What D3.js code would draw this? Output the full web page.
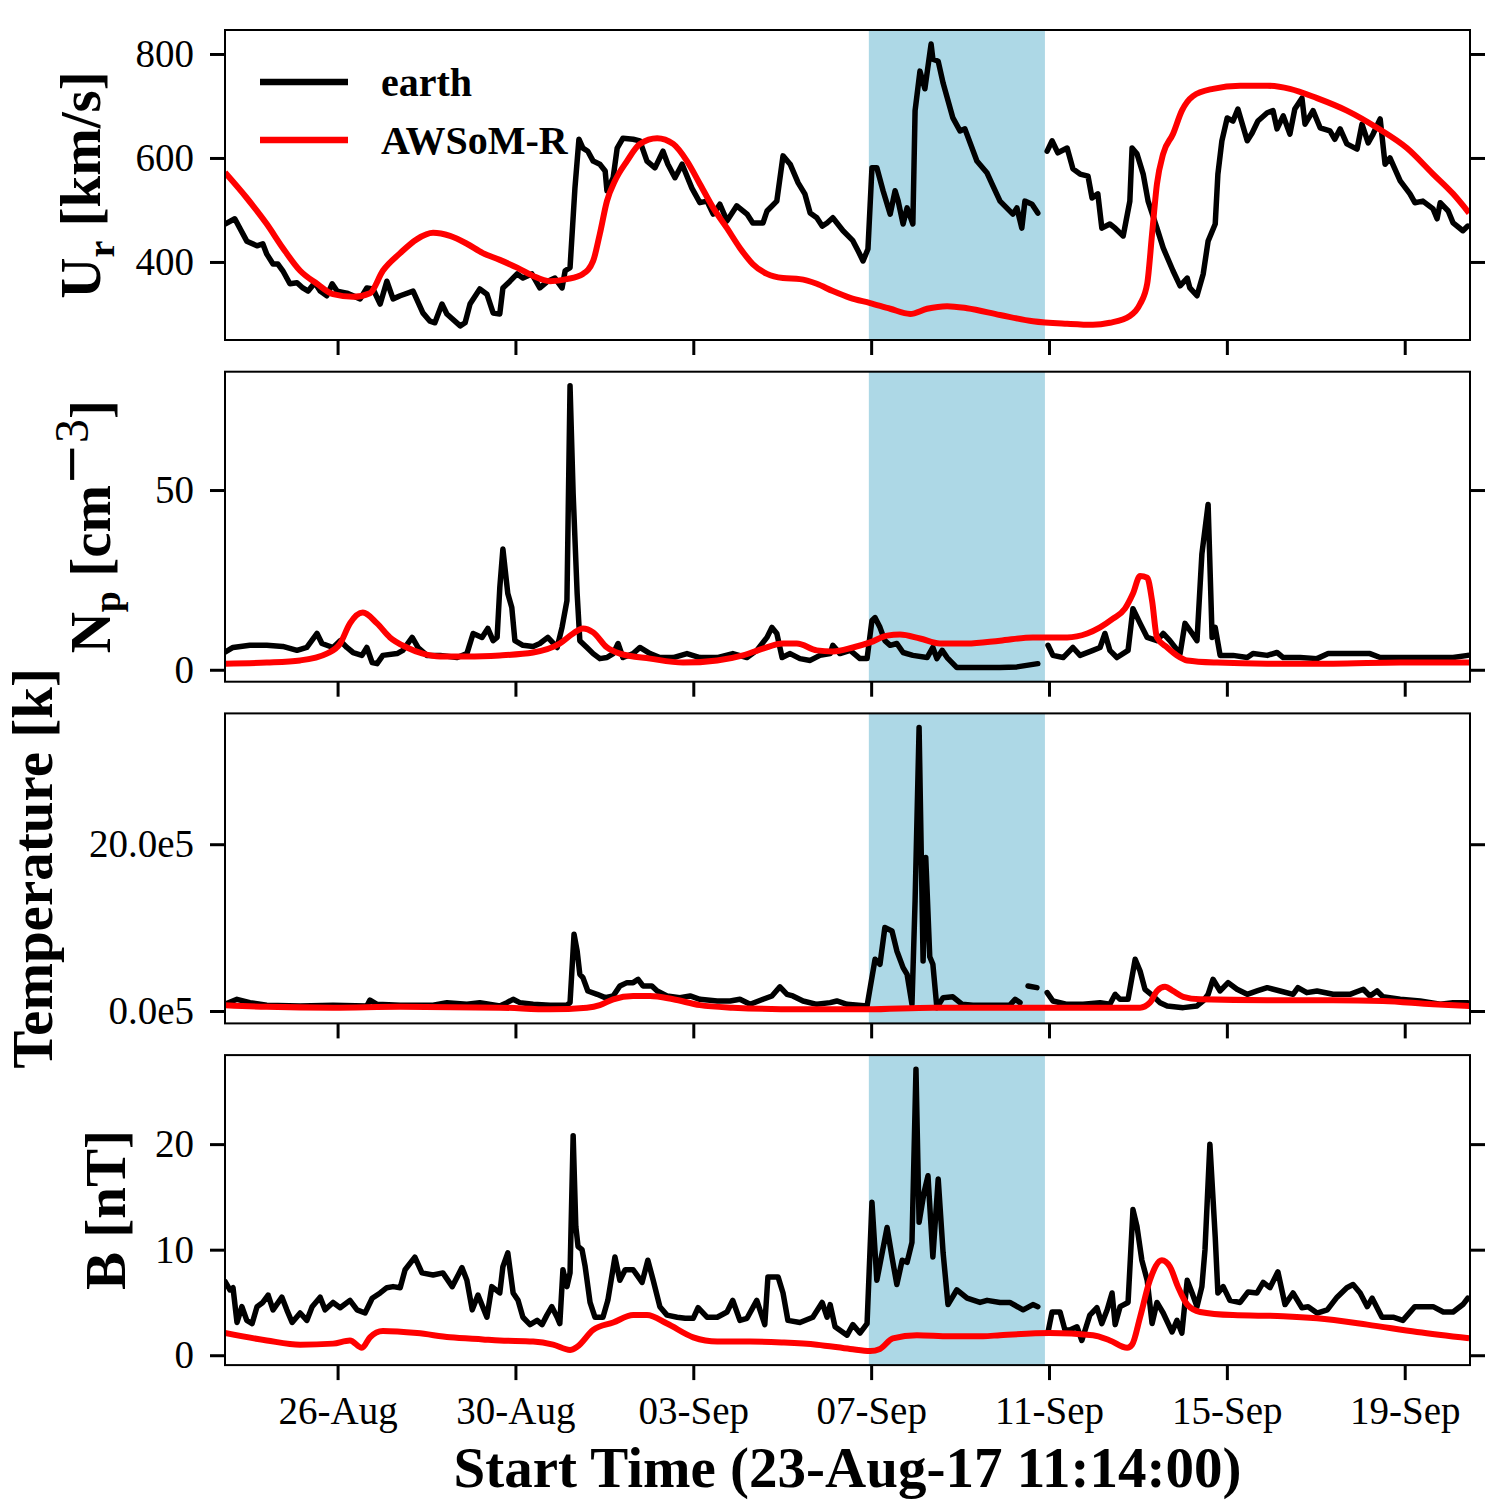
<!DOCTYPE html>
<html>
<head>
<meta charset="utf-8">
<script src="https://cdn.jsdelivr.net/npm/d3@7"></script>
<style>
body { margin: 0; background: #fff; }
svg text { font-family: "Liberation Serif", "Times New Roman", serif; }
</style>
</head>
<body>
<div id="chart"></div>
<script>

// time axis: days since start time 23-Aug-17 11:14:00
var start = Date.UTC(2017, 7, 23, 11, 14)
var spanDays = 28
var shadeDays = [14.48, 18.44]
var tickDates = ["2017-08-26", "2017-08-30", "2017-09-03", "2017-09-07",
                 "2017-09-11", "2017-09-15", "2017-09-19"]

// Ur [km/s]
var urEarth = [[0.00,473],[0.22,483],[0.49,440],[0.72,431],[0.85,435],[0.94,415],[1.08,396],[1.19,396],[1.30,383],[1.46,358],[1.62,360],[1.75,350],[1.87,344],[2.02,360],[2.14,344],[2.29,335],[2.41,358],[2.52,344],[2.74,340],[3.04,329],[3.19,350],[3.33,348],[3.49,319],[3.64,363],[3.78,329],[3.94,335],[4.23,344],[4.45,302],[4.61,286],[4.72,283],[4.88,319],[4.99,300],[5.29,277],[5.40,283],[5.51,319],[5.73,348],[5.89,338],[6.03,302],[6.18,300],[6.25,350],[6.41,363],[6.57,377],[6.70,369],[6.90,377],[7.08,350],[7.26,363],[7.42,369],[7.58,350],[7.65,383],[7.76,389],[7.87,542],[7.96,636],[8.05,619],[8.16,613],[8.28,594],[8.43,588],[8.55,575],[8.59,537],[8.73,562],[8.82,619],[8.95,638],[9.18,636],[9.33,633],[9.49,594],[9.67,581],[9.85,613],[9.96,588],[10.12,562],[10.28,588],[10.50,542],[10.68,514],[10.84,517],[10.98,492],[11.13,511],[11.29,479],[11.51,508],[11.74,492],[11.87,475],[12.10,475],[12.19,498],[12.41,517],[12.55,604],[12.71,588],[12.89,552],[13.04,531],[13.16,494],[13.31,485],[13.43,469],[13.54,475],[13.67,485],[13.90,460],[14.12,441],[14.24,421],[14.35,402],[14.46,425],[14.55,581],[14.66,581],[14.80,537],[14.96,492],[15.07,537],[15.14,517],[15.25,473],[15.34,504],[15.47,473],[15.52,691],[15.63,767],[15.74,733],[15.88,819],[15.92,790],[16.04,786],[16.15,744],[16.37,677],[16.53,652],[16.64,656],[16.91,594],[17.14,571],[17.25,550],[17.43,517],[17.72,492],[17.81,504],[17.92,465],[17.99,517],[18.15,511],[18.28,494],[18.38,null],[18.49,613],[18.60,633],[18.73,610],[18.94,619],[19.07,579],[19.23,569],[19.41,565],[19.50,523],[19.63,531],[19.72,465],[19.90,473],[20.02,465],[20.20,450],[20.35,517],[20.40,619],[20.51,608],[20.65,569],[20.76,517],[20.96,465],[21.10,427],[21.32,383],[21.48,354],[21.64,369],[21.70,350],[21.86,335],[22.00,377],[22.11,440],[22.27,473],[22.33,569],[22.42,633],[22.54,677],[22.67,671],[22.78,694],[22.99,633],[23.10,648],[23.23,671],[23.44,687],[23.57,691],[23.66,656],[23.80,681],[23.95,646],[24.06,694],[24.22,715],[24.29,665],[24.47,691],[24.63,658],[24.85,652],[24.96,636],[25.08,656],[25.23,627],[25.46,617],[25.57,665],[25.71,629],[25.82,646],[25.98,675],[26.09,588],[26.20,600],[26.43,556],[26.65,531],[26.76,514],[26.94,517],[27.17,502],[27.26,483],[27.33,514],[27.51,498],[27.62,475],[27.84,460],[27.95,469]]
var urModel = [[0.00,572],[0.49,523],[0.94,473],[1.30,427],[1.69,383],[2.07,358],[2.43,338],[2.88,333],[3.26,340],[3.55,383],[3.94,417],[4.32,444],[4.68,456],[5.06,450],[5.44,435],[5.80,417],[6.18,404],[6.57,389],[6.93,373],[7.31,363],[7.69,367],[8.05,377],[8.28,402],[8.43,454],[8.59,517],[8.77,556],[9.04,594],[9.33,627],[9.72,638],[10.08,627],[10.39,594],[10.68,550],[10.98,504],[11.29,465],[11.58,427],[11.87,396],[12.19,377],[12.55,369],[12.93,367],[13.31,358],[13.67,344],[14.06,331],[14.51,321],[14.96,310],[15.41,300],[15.79,310],[16.24,315],[16.69,311],[17.43,298],[18.17,286],[18.94,281],[19.52,279],[19.90,283],[20.35,296],[20.58,319],[20.74,358],[20.85,454],[20.96,550],[21.10,608],[21.32,646],[21.52,691],[21.77,719],[22.22,733],[22.83,739],[23.44,739],[23.95,733],[24.56,715],[25.23,691],[25.91,658],[26.58,619],[27.17,569],[27.62,531],[27.98,494]]

// Np [cm^-3]
var npEarth = [[0.00,4.9],[0.18,6.2],[0.56,6.8],[0.94,6.8],[1.30,6.5],[1.62,5.4],[1.84,6.2],[2.07,10.1],[2.18,7.3],[2.43,6.2],[2.59,8.1],[2.74,6.2],[2.88,4.8],[3.08,4.0],[3.19,6.2],[3.31,2.0],[3.42,1.7],[3.55,4.0],[3.87,4.5],[4.00,5.4],[4.21,9.0],[4.34,6.2],[4.54,4.0],[4.84,4.0],[5.22,3.4],[5.44,4.5],[5.58,10.1],[5.78,9.0],[5.91,11.5],[6.03,8.1],[6.12,9.0],[6.18,22.8],[6.25,33.6],[6.36,21.2],[6.45,17.3],[6.52,8.1],[6.70,6.8],[6.93,6.5],[7.08,7.3],[7.26,9.0],[7.47,6.2],[7.58,11.8],[7.69,19.2],[7.76,79.0],[7.83,48.9],[7.92,21.2],[7.98,8.1],[8.14,6.2],[8.28,4.5],[8.43,3.1],[8.59,3.4],[8.73,4.5],[8.84,7.3],[8.95,3.4],[9.18,4.5],[9.33,6.2],[9.56,4.5],[9.78,3.4],[10.08,3.4],[10.39,4.5],[10.68,3.4],[11.07,3.4],[11.42,4.5],[11.74,3.4],[11.96,5.4],[12.19,9.0],[12.30,11.8],[12.41,10.1],[12.53,3.4],[12.71,4.5],[12.93,3.1],[13.16,2.6],[13.38,4.0],[13.61,4.5],[13.67,6.8],[13.83,4.5],[14.06,5.4],[14.28,3.1],[14.44,3.1],[14.55,13.7],[14.62,14.5],[14.73,11.8],[14.84,8.1],[14.96,6.8],[15.11,7.3],[15.25,4.8],[15.47,4.0],[15.79,3.4],[15.92,6.2],[16.01,3.1],[16.13,5.4],[16.24,3.4],[16.46,0.6],[16.82,0.6],[17.43,0.6],[17.81,0.8],[18.28,1.7],[18.40,null],[18.51,6.8],[18.62,4.0],[18.85,3.4],[19.07,6.2],[19.23,4.0],[19.52,5.4],[19.68,6.2],[19.79,10.1],[19.90,5.4],[20.06,3.4],[20.31,5.4],[20.42,17.0],[20.58,12.9],[20.74,9.0],[20.96,8.1],[21.10,10.1],[21.25,8.1],[21.48,4.5],[21.59,12.9],[21.75,10.1],[21.86,8.1],[21.97,32.2],[22.11,46.0],[22.20,9.0],[22.27,11.8],[22.38,4.0],[22.67,4.0],[22.99,3.4],[23.12,4.5],[23.44,4.0],[23.66,4.8],[23.80,3.4],[24.18,3.4],[24.56,3.1],[24.81,4.5],[25.23,4.5],[25.53,4.5],[25.75,4.5],[25.98,3.4],[26.43,3.4],[26.81,3.4],[27.17,3.4],[27.62,3.4],[27.95,4.0]]
var npModel = [[0.00,1.7],[0.94,2.0],[1.69,2.6],[2.29,4.5],[2.59,7.3],[2.81,12.9],[3.10,15.9],[3.42,12.9],[3.71,9.0],[4.09,6.2],[4.45,4.5],[4.84,3.7],[5.44,3.7],[6.18,4.0],[6.93,4.8],[7.53,7.3],[7.83,10.1],[8.05,11.5],[8.28,10.4],[8.59,6.2],[8.88,4.5],[9.56,3.1],[10.30,2.0],[11.07,2.6],[11.65,4.0],[12.10,5.9],[12.55,7.3],[12.86,7.3],[13.31,5.4],[13.67,5.1],[14.12,6.2],[14.51,7.6],[14.89,9.5],[15.18,9.8],[15.63,8.7],[16.08,7.3],[16.69,7.3],[17.43,8.1],[18.17,9.0],[18.94,9.0],[19.39,10.1],[19.68,11.8],[19.97,14.2],[20.24,17.0],[20.42,21.2],[20.58,26.1],[20.74,25.6],[20.85,19.2],[20.96,9.0],[21.19,6.2],[21.41,4.0],[21.64,2.6],[22.31,2.0],[23.44,1.7],[24.92,1.7],[26.43,2.0],[27.98,2.0]]

// Temperature, in units of 1e5 K
var tEarth = [[0.00,0.8],[0.27,1.4],[0.56,1.0],[0.94,0.7],[1.69,0.6],[2.43,0.7],[3.19,0.6],[3.26,1.3],[3.42,0.8],[3.94,0.7],[4.68,0.7],[4.99,1.0],[5.44,0.8],[5.73,1.0],[6.18,0.6],[6.34,1.0],[6.48,1.4],[6.63,1.0],[6.93,0.8],[7.31,0.7],[7.69,0.7],[7.76,1.0],[7.85,9.2],[7.92,7.2],[7.98,4.4],[8.05,4.0],[8.16,2.4],[8.37,2.0],[8.55,1.6],[8.73,1.8],[8.88,3.0],[9.04,3.4],[9.18,3.4],[9.29,3.8],[9.40,3.0],[9.60,3.0],[9.72,2.4],[9.94,1.8],[10.23,1.6],[10.46,1.8],[10.68,1.4],[11.07,1.2],[11.36,1.2],[11.58,1.4],[11.81,0.8],[12.10,1.4],[12.30,1.8],[12.48,2.9],[12.64,2.0],[12.77,1.8],[13.00,1.2],[13.31,0.8],[13.61,1.0],[13.76,1.2],[13.99,0.8],[14.44,0.6],[14.51,2.8],[14.62,6.2],[14.73,5.6],[14.84,10.0],[15.00,9.6],[15.11,7.2],[15.25,5.2],[15.34,4.4],[15.45,0.8],[15.52,13.2],[15.61,34.0],[15.70,6.0],[15.76,18.4],[15.85,6.5],[15.92,5.6],[16.01,0.4],[16.15,1.6],[16.37,1.7],[16.58,0.8],[16.82,0.7],[17.43,0.7],[17.65,0.7],[17.77,1.4],[17.88,1.0],[17.97,null],[18.06,3.0],[18.26,2.8],[18.38,null],[18.49,2.2],[18.62,1.2],[18.94,0.8],[19.30,0.8],[19.68,1.0],[19.90,0.8],[20.02,2.0],[20.13,1.4],[20.31,1.4],[20.47,6.2],[20.58,4.8],[20.69,2.6],[20.87,1.8],[21.03,1.0],[21.19,0.6],[21.55,0.4],[21.86,0.6],[22.00,1.2],[22.11,2.0],[22.22,3.8],[22.38,2.4],[22.56,3.4],[22.76,2.6],[22.99,2.0],[23.21,2.4],[23.44,2.8],[23.73,2.4],[24.02,2.0],[24.13,2.8],[24.33,2.2],[24.56,2.4],[24.92,2.0],[25.30,2.0],[25.60,2.6],[25.75,1.8],[25.91,2.4],[26.04,1.7],[26.43,1.4],[26.88,1.2],[27.33,0.8],[27.62,1.0],[27.95,1.0]]
var tModel = [[0.00,0.7],[0.94,0.5],[2.43,0.4],[3.94,0.5],[6.18,0.4],[7.31,0.2],[8.14,0.4],[8.43,0.7],[8.73,1.4],[9.18,1.8],[9.56,1.8],[10.08,1.4],[10.68,0.7],[11.42,0.4],[12.93,0.2],[14.44,0.2],[15.92,0.4],[17.43,0.4],[18.94,0.4],[20.58,0.4],[20.80,1.0],[20.96,2.4],[21.14,2.9],[21.32,2.4],[21.55,1.7],[21.93,1.4],[23.44,1.3],[24.92,1.3],[26.04,1.2],[27.17,0.8],[27.98,0.6]]

// B [nT]
var bEarth = [[0.00,7.0],[0.11,6.2],[0.18,6.4],[0.27,3.1],[0.38,4.6],[0.49,3.3],[0.61,3.0],[0.72,4.6],[0.85,5.0],[0.97,5.7],[1.08,4.3],[1.28,5.5],[1.39,4.3],[1.51,3.1],[1.69,4.0],[1.84,3.3],[1.96,4.6],[2.14,5.5],[2.25,4.3],[2.43,5.0],[2.59,4.5],[2.81,5.2],[2.97,4.3],[3.15,4.0],[3.31,5.4],[3.49,5.9],[3.64,6.4],[3.78,6.5],[3.94,6.4],[4.05,8.1],[4.27,9.3],[4.43,7.8],[4.68,7.6],[4.90,7.8],[5.11,6.5],[5.33,8.3],[5.44,7.1],[5.56,4.3],[5.69,5.7],[5.89,3.6],[6.00,6.5],[6.18,5.9],[6.25,8.4],[6.36,9.7],[6.48,5.9],[6.59,5.2],[6.70,3.6],[6.86,2.9],[7.02,3.3],[7.13,2.9],[7.24,3.8],[7.35,4.6],[7.47,3.6],[7.53,3.0],[7.60,8.1],[7.69,6.5],[7.76,7.8],[7.83,20.8],[7.89,12.2],[7.94,10.3],[8.03,10.0],[8.10,8.4],[8.21,5.0],[8.32,3.6],[8.50,3.6],[8.61,5.2],[8.77,9.3],[8.88,7.1],[9.00,8.1],[9.18,8.1],[9.38,6.9],[9.51,9.0],[9.63,7.1],[9.78,4.6],[9.94,3.8],[10.17,3.6],[10.35,3.5],[10.53,3.5],[10.64,4.5],[10.84,3.6],[11.07,3.6],[11.29,4.1],[11.42,5.2],[11.58,3.3],[11.74,3.5],[11.96,5.2],[12.14,2.9],[12.21,7.4],[12.44,7.4],[12.55,5.9],[12.66,3.3],[12.93,3.1],[13.22,3.6],[13.43,5.0],[13.54,3.6],[13.61,4.8],[13.72,2.7],[13.99,1.9],[14.12,2.9],[14.28,2.1],[14.44,3.0],[14.55,14.5],[14.66,7.1],[14.78,9.7],[14.89,12.1],[15.00,9.3],[15.11,6.7],[15.23,9.0],[15.34,8.8],[15.45,10.7],[15.54,27.1],[15.61,12.6],[15.72,15.4],[15.81,17.0],[15.92,9.3],[16.04,16.7],[16.15,9.7],[16.26,4.8],[16.46,6.2],[16.69,5.4],[16.98,5.0],[17.14,5.2],[17.43,5.0],[17.65,5.0],[17.95,4.3],[18.17,4.8],[18.28,4.6],[18.40,null],[18.51,2.2],[18.60,4.1],[18.78,4.1],[18.89,2.4],[19.00,2.4],[19.16,2.7],[19.27,1.4],[19.45,3.8],[19.61,4.5],[19.72,3.0],[19.84,4.3],[19.95,5.9],[20.02,2.9],[20.13,4.6],[20.31,5.0],[20.42,13.8],[20.51,12.2],[20.62,9.0],[20.74,7.1],[20.85,3.0],[20.96,5.0],[21.10,4.0],[21.30,2.2],[21.41,3.3],[21.52,2.1],[21.64,7.1],[21.75,5.9],[21.86,4.6],[21.97,6.5],[22.04,10.0],[22.15,20.0],[22.27,11.2],[22.33,5.9],[22.45,6.5],[22.60,5.2],[22.83,5.0],[23.01,6.0],[23.21,5.9],[23.35,6.9],[23.50,6.4],[23.68,7.9],[23.84,4.8],[24.02,5.9],[24.22,4.5],[24.36,4.6],[24.56,4.0],[24.79,4.3],[25.01,5.5],[25.23,6.4],[25.37,6.7],[25.53,5.9],[25.69,4.6],[25.80,5.4],[26.02,3.6],[26.27,3.6],[26.49,3.3],[26.76,4.6],[26.94,4.6],[27.17,4.6],[27.40,4.1],[27.62,4.1],[27.84,4.8],[27.95,5.4]]
var bModel = [[0.00,2.1],[0.94,1.4],[1.69,1.0],[2.43,1.1],[2.81,1.4],[3.08,0.7],[3.26,1.7],[3.55,2.3],[4.32,2.1],[5.06,1.7],[5.80,1.5],[6.18,1.4],[6.93,1.3],[7.38,1.0],[7.76,0.5],[7.92,0.8],[8.28,2.4],[8.73,3.1],[9.18,3.8],[9.49,3.8],[9.94,3.0],[10.53,1.7],[11.07,1.3],[11.81,1.3],[12.55,1.2],[13.31,1.0],[14.06,0.6],[14.51,0.4],[14.73,0.6],[15.02,1.6],[15.56,1.9],[16.30,1.8],[17.05,1.8],[17.43,1.9],[18.55,2.1],[19.52,1.9],[19.90,1.4],[20.29,0.7],[20.40,1.0],[20.58,3.6],[20.80,7.1],[21.07,9.0],[21.25,8.4],[21.43,6.5],[21.64,4.8],[21.93,4.1],[22.67,3.8],[23.80,3.7],[24.56,3.5],[25.69,2.9],[26.81,2.2],[27.98,1.6]]

var urTicks = [400, 600, 800]
var npTicks = [0, 50]
var tTicks = [0, 20]
var bTicks = [0, 10, 20]

var seriesNames = ["earth", "AWSoM-R"]

var W = 1500, H = 1500
var left = 225, right = 1470
var panelTop = 30, panelStep = 341.7, panelH = 310

var panels = [
    {earth: urEarth, model: urModel, ticks: urTicks, fmt: d3.format("d"), labelX: 100,
     label: [{t: "U"}, {t: "r", size: 38, dy: 14}, {t: " [km/s]", dy: -14}]},
    {earth: npEarth, model: npModel, ticks: npTicks, fmt: d3.format("d"), labelX: 110,
     label: [{t: "N"}, {t: "p", size: 38, dy: 10}, {t: " [cm", dy: -10},
             {t: "\u2212", size: 50, weight: "normal", font: "DejaVu Sans", dy: -22},
             {t: "3", size: 48, weight: "normal"}, {t: "]", dy: 22}]},
    {earth: tEarth, model: tModel, ticks: tTicks, fmt: function (d) { return d.toFixed(1) + "e5" }, labelX: 52,
     label: [{t: "Temperature [k]"}]},
    {earth: bEarth, model: bModel, ticks: bTicks, fmt: d3.format("d"), labelX: 125,
     label: [{t: "B [nT]"}]}
]

function toDate(t) { return new Date(start + t * 864e5) }

var x = d3.scaleUtc()
    .domain([new Date(start), toDate(spanDays)])
    .range([left, right])

var svg = d3.select("#chart")
    .append("svg")
    .attr("width", W)
    .attr("height", H)
    .style("background", "#fff")

var ticksX = tickDates.map(function (s) { return new Date(s + "T00:00:00Z") })

panels.forEach(function (p, i) {
    var top = panelTop + i * panelStep
    var bottom = top + panelH

    // y range like matplotlib autoscale: data extent plus 5% margin
    var vals = p.earth.concat(p.model)
        .filter(function (d) { return d[1] != null })
        .map(function (d) { return d[1] })
    var ext = d3.extent(vals)
    var pad = (ext[1] - ext[0]) * 0.05
    var y = d3.scaleLinear()
        .domain([ext[0] - pad, ext[1] + pad])
        .range([bottom, top])

    var g = svg.append("g")

    g.append("clipPath").attr("id", "clip" + i)
        .append("rect")
        .attr("x", left).attr("y", top)
        .attr("width", right - left).attr("height", panelH)

    // shaded interval
    g.append("rect")
        .attr("x", x(toDate(shadeDays[0])))
        .attr("y", top)
        .attr("width", x(toDate(shadeDays[1])) - x(toDate(shadeDays[0])))
        .attr("height", panelH)
        .attr("fill", "#add8e6")

    var lineEarth = d3.line()
        .defined(function (d) { return d[1] != null })
        .x(function (d) { return x(toDate(d[0])) })
        .y(function (d) { return y(d[1]) })

    var lineModel = d3.line()
        .x(function (d) { return x(toDate(d[0])) })
        .y(function (d) { return y(d[1]) })
        .curve(d3.curveMonotoneX)

    var lines = g.append("g").attr("clip-path", "url(#clip" + i + ")")

    lines.append("path")
        .attr("d", lineEarth(p.earth))
        .attr("fill", "none")
        .attr("stroke", "#000")
        .attr("stroke-width", 5.5)
        .attr("stroke-linejoin", "round")
        .attr("stroke-linecap", "round")

    lines.append("path")
        .attr("d", lineModel(p.model))
        .attr("fill", "none")
        .attr("stroke", "#ff0000")
        .attr("stroke-width", 6)
        .attr("stroke-linejoin", "round")

    // frame
    g.append("rect")
        .attr("x", left).attr("y", top)
        .attr("width", right - left).attr("height", panelH)
        .attr("fill", "none")
        .attr("stroke", "#000")
        .attr("stroke-width", 2)

    // y axes (labels left, bare ticks right)
    var ya = g.append("g")
        .attr("transform", "translate(" + left + ",0)")
        .call(d3.axisLeft(y).tickValues(p.ticks).tickFormat(p.fmt).tickSize(15).tickPadding(16))
    var yb = g.append("g")
        .attr("transform", "translate(" + right + ",0)")
        .call(d3.axisRight(y).tickValues(p.ticks).tickFormat("").tickSize(15))

    // x axis
    var xa = g.append("g")
        .attr("transform", "translate(0," + bottom + ")")
        .call(d3.axisBottom(x).tickValues(ticksX)
            .tickFormat(i == panels.length - 1 ? d3.utcFormat("%d-%b") : "")
            .tickSize(15).tickPadding(16))

    ;[ya, yb, xa].forEach(function (a) {
        a.select(".domain").remove()
        a.selectAll(".tick line").attr("stroke", "#000").attr("stroke-width", 3)
        a.selectAll(".tick text")
            .attr("fill", "#000")
            .style("font-family", '"Liberation Serif", "Times New Roman", serif')
            .style("font-size", "39px")
    })

    // y label
    var lab = svg.append("text")
        .attr("transform", "translate(" + p.labelX + "," + (top + panelH / 2) + ") rotate(-90)")
        .attr("text-anchor", "middle")
        .style("font-size", "57px")
        .style("font-weight", "bold")
        .attr("fill", "#000")
    p.label.forEach(function (part) {
        var ts = lab.append("tspan").text(part.t)
        if (part.size) ts.style("font-size", part.size + "px")
        if (part.weight) ts.style("font-weight", part.weight)
        if (part.font) ts.style("font-family", part.font)
        if (part.dy) ts.attr("dy", part.dy)
    })

    // legend in the first panel
    if (i == 0) {
        var colors = ["#000", "#ff0000"]
        var leg = svg.append("g")
        seriesNames.forEach(function (name, k) {
            var ly = top + 52 + k * 58
            leg.append("line")
                .attr("x1", 260).attr("x2", 348)
                .attr("y1", ly).attr("y2", ly)
                .attr("stroke", colors[k])
                .attr("stroke-width", 6.7)
            leg.append("text")
                .attr("x", 381).attr("y", ly + 14)
                .style("font-size", "40px")
                .style("font-weight", "bold")
                .attr("fill", "#000")
                .text(name)
        })
    }
})

svg.append("text")
    .attr("x", (left + right) / 2)
    .attr("y", 1487)
    .attr("text-anchor", "middle")
    .style("font-size", "57px")
    .style("font-weight", "bold")
    .attr("fill", "#000")
    .text("Start Time (23-Aug-17 11:14:00)")

</script>
</body>
</html>
